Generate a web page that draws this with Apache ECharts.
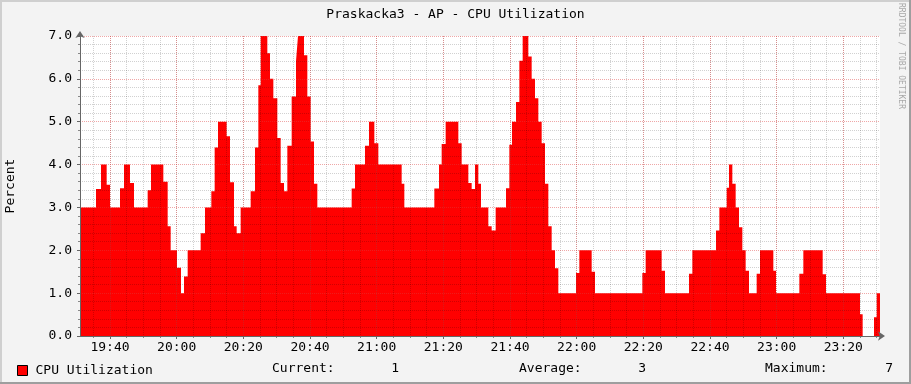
<!DOCTYPE html>
<html><head><meta charset="utf-8">
<script src="https://cdn.jsdelivr.net/npm/echarts@6/dist/echarts.min.js"></script>
<style>html,body{margin:0;padding:0;background:#f3f3f3}#c{width:911px;height:384px}</style>
</head><body><div id="c"></div>
<script>
// minutes after 19:00 where each level starts (step data), last entry = end of data
const changeMinutes = [31.0, 35.8, 37.3, 39.0, 40.0, 43.0, 44.2, 46.0, 47.2, 51.3, 52.3, 56.0, 57.3, 58.2, 60.1, 61.3, 62.2, 63.3, 67.2, 68.5,
  70.4, 71.4, 72.4, 75.0, 76.0, 77.2, 78.0, 79.2, 82.2, 83.5, 84.5, 85.2, 87.2, 88.0, 89.0, 90.2, 91.2, 92.2, 93.2, 94.5,
  95.8, 96.4, 98.2, 99.2, 100.2, 101.2, 102.2, 112.5, 113.5, 116.5, 117.7, 119.3, 120.5, 127.5, 128.3, 137.3, 138.7, 139.5, 140.7, 144.5,
  145.5, 147.5, 148.5, 149.5, 150.5, 151.3, 153.5, 154.5, 155.7, 158.8, 159.8, 160.6, 161.8, 162.8, 163.8, 165.5, 166.5, 167.5, 168.5, 169.5,
  170.5, 171.5, 172.5, 173.5, 174.5, 179.8, 180.8, 184.5, 185.5, 199.7, 200.7, 205.5, 206.5, 213.7, 214.7, 221.8, 222.8, 225.0, 225.7, 226.7,
  227.7, 228.7, 229.7, 230.7, 231.7, 234.0, 235.0, 239.0, 239.8, 246.8, 248.0, 253.8, 254.8, 265.0, 265.8, 269.2, 270.0, 271.0];
const cpuPercent = [3.0, 3.43, 4.0, 3.53, 3.0, 3.45, 4.0, 3.57, 3.0, 3.4, 4.0, 3.6, 2.56, 2.0, 1.59, 1.0, 1.39, 2.0, 2.4, 3.0,
  3.38, 4.4, 5.0, 4.66, 3.59, 2.56, 2.4, 3.0, 3.38, 4.4, 5.85, 7.0, 6.6, 6.0, 5.55, 4.62, 3.57, 3.38, 4.44, 5.59,
  6.41, 7.0, 6.55, 5.59, 4.54, 3.55, 3.0, 3.44, 4.0, 4.44, 5.0, 4.5, 4.0, 3.55, 3.0, 3.44, 4.0, 4.48, 5.0, 4.5,
  4.0, 3.57, 3.43, 4.0, 3.55, 3.0, 2.56, 2.46, 3.0, 3.45, 4.46, 5.0, 5.46, 6.42, 7.0, 6.52, 6.0, 5.55, 5.0, 4.5,
  3.55, 2.56, 2.0, 1.58, 1.0, 1.47, 2.0, 1.5, 1.0, 1.47, 2.0, 1.52, 1.0, 1.45, 2.0, 2.46, 3.0, 3.46, 4.0, 3.55,
  3.0, 2.54, 2.0, 1.52, 1.0, 1.45, 2.0, 1.52, 1.0, 1.45, 2.0, 1.44, 1.0, 0.51, 0, 0.44, 1.0, 1.0];
const majorTickMinutes = [40, 60, 80, 100, 120, 140, 160, 180, 200, 220, 240, 260];
const minorTickMinutes = [35, 40, 45, 50, 55, 60, 65, 70, 75, 80, 85, 90, 95, 100, 105, 110, 115, 120, 125, 130, 135, 140, 145, 150,
  155, 160, 165, 170, 175, 180, 185, 190, 195, 200, 205, 210, 215, 220, 225, 230, 235, 240, 245, 250, 255, 260, 265, 270];
const gprintLabels = ['Current:', 'Average:', 'Maximum:'];
const gprintValues = ['1', '3', '7'];

const FONT = 'DejaVu Sans Mono';
const fmtTime = m => { const h = 19 + Math.floor(m / 60); const mm = Math.round(m % 60); return h + ':' + (mm < 10 ? '0' : '') + mm; };
const seriesData = changeMinutes.map((t, i) => [t, cpuPercent[i]]);

const chart = echarts.init(document.getElementById('c'), null, {renderer: 'canvas'});
chart.setOption({
  backgroundColor: '#f3f3f3',
  animation: false,
  title: {text: 'Praskacka3 - AP - CPU Utilization', left: 'center', top: 8, padding: 0,
    textStyle: {fontFamily: FONT, fontSize: 13, fontWeight: 'normal', color: '#000'}},
  legend: {left: 17, top: 364, padding: 0, itemWidth: 10, itemHeight: 10, icon: 'rect',
    itemStyle: {borderColor: '#000', borderWidth: 1},
    textStyle: {fontFamily: FONT, fontSize: 13, color: '#000', padding: [0, 0, 0, 3]},
    data: ['CPU Utilization']},
  grid: {left: 80, top: 36, width: 800, height: 300, show: true, backgroundColor: '#ffffff', borderWidth: 0,
    containLabel: false, outerBoundsMode: 'none'},
  xAxis: [
    {type: 'value', min: 31, max: 271, z: 4,
      axisLine: {show: true, lineStyle: {color: '#666', width: 1}, symbol: ['none', 'arrow'], symbolSize: [7, 7], symbolOffset: [0, 5]},
      axisTick: {show: true, length: 3, customValues: majorTickMinutes, lineStyle: {color: '#666'}},
      axisLabel: {customValues: majorTickMinutes, formatter: fmtTime, fontFamily: FONT, fontSize: 13, color: '#000', margin: 5},
      splitLine: {show: true, lineStyle: {color: 'rgba(220,60,60,0.45)', type: [1, 1], width: 1}}},
    {type: 'value', min: 31, max: 271, z: 3, position: 'bottom',
      axisLine: {show: false},
      axisTick: {show: true, length: 2, customValues: minorTickMinutes, lineStyle: {color: '#888'}},
      axisLabel: {show: false},
      splitLine: {show: true, lineStyle: {color: 'rgba(0,0,0,0.18)', type: [1, 1], width: 1}}}
  ],
  yAxis: {type: 'value', min: 0, max: 7, interval: 1, z: 4,
    name: 'Percent', nameLocation: 'middle', nameRotate: 90, nameGap: 63,
    nameTextStyle: {fontFamily: FONT, fontSize: 13, color: '#000'},
    axisLine: {show: true, lineStyle: {color: '#666', width: 1}, symbol: ['none', 'arrow'], symbolSize: [7, 7], symbolOffset: [0, 5]},
    axisTick: {show: true, length: 3, lineStyle: {color: '#666'}},
    minorTick: {show: true, splitNumber: 5, length: 2, lineStyle: {color: '#888'}},
    axisLabel: {formatter: v => v.toFixed(1), fontFamily: FONT, fontSize: 13, color: '#000', margin: 8},
    splitLine: {show: true, lineStyle: {color: 'rgba(220,60,60,0.45)', type: [1, 1], width: 1}},
    minorSplitLine: {show: true, lineStyle: {color: 'rgba(0,0,0,0.18)', type: [1, 1], width: 1}}},
  series: [{
    name: 'CPU Utilization', type: 'line', step: 'end', xAxisIndex: 0, showSymbol: false, symbol: 'none', z: 2,
    data: seriesData,
    itemStyle: {color: '#ff0000'},
    lineStyle: {width: 0, color: '#ff0000'},
    areaStyle: {color: '#ff0000', opacity: 1}
  }],
  graphic: [
    {type: 'rect', shape: {x: 0, y: 0, width: 911, height: 2}, style: {fill: '#cfcfcf'}, silent: true},
    {type: 'rect', shape: {x: 0, y: 0, width: 2, height: 384}, style: {fill: '#cfcfcf'}, silent: true},
    {type: 'rect', shape: {x: 0, y: 382, width: 911, height: 2}, style: {fill: '#9e9e9e'}, silent: true},
    {type: 'rect', shape: {x: 909, y: 0, width: 2, height: 384}, style: {fill: '#9e9e9e'}, silent: true},
    {type: 'text', x: 901, y: 56, rotation: -Math.PI / 2,
      style: {text: 'RRDTOOL / TOBI OETIKER', font: '8px ' + FONT, fill: '#a8a8a8', align: 'center', verticalAlign: 'middle'}},
    {type: 'text', x: 272, y: 369, style: {text: gprintLabels[0], font: '13px ' + FONT, fill: '#000', verticalAlign: 'middle'}},
    {type: 'text', x: 399, y: 369, style: {text: gprintValues[0], font: '13px ' + FONT, fill: '#000', align: 'right', verticalAlign: 'middle'}},
    {type: 'text', x: 519, y: 369, style: {text: gprintLabels[1], font: '13px ' + FONT, fill: '#000', verticalAlign: 'middle'}},
    {type: 'text', x: 646, y: 369, style: {text: gprintValues[1], font: '13px ' + FONT, fill: '#000', align: 'right', verticalAlign: 'middle'}},
    {type: 'text', x: 765, y: 369, style: {text: gprintLabels[2], font: '13px ' + FONT, fill: '#000', verticalAlign: 'middle'}},
    {type: 'text', x: 893, y: 369, style: {text: gprintValues[2], font: '13px ' + FONT, fill: '#000', align: 'right', verticalAlign: 'middle'}}
  ]
});
</script></body></html>
